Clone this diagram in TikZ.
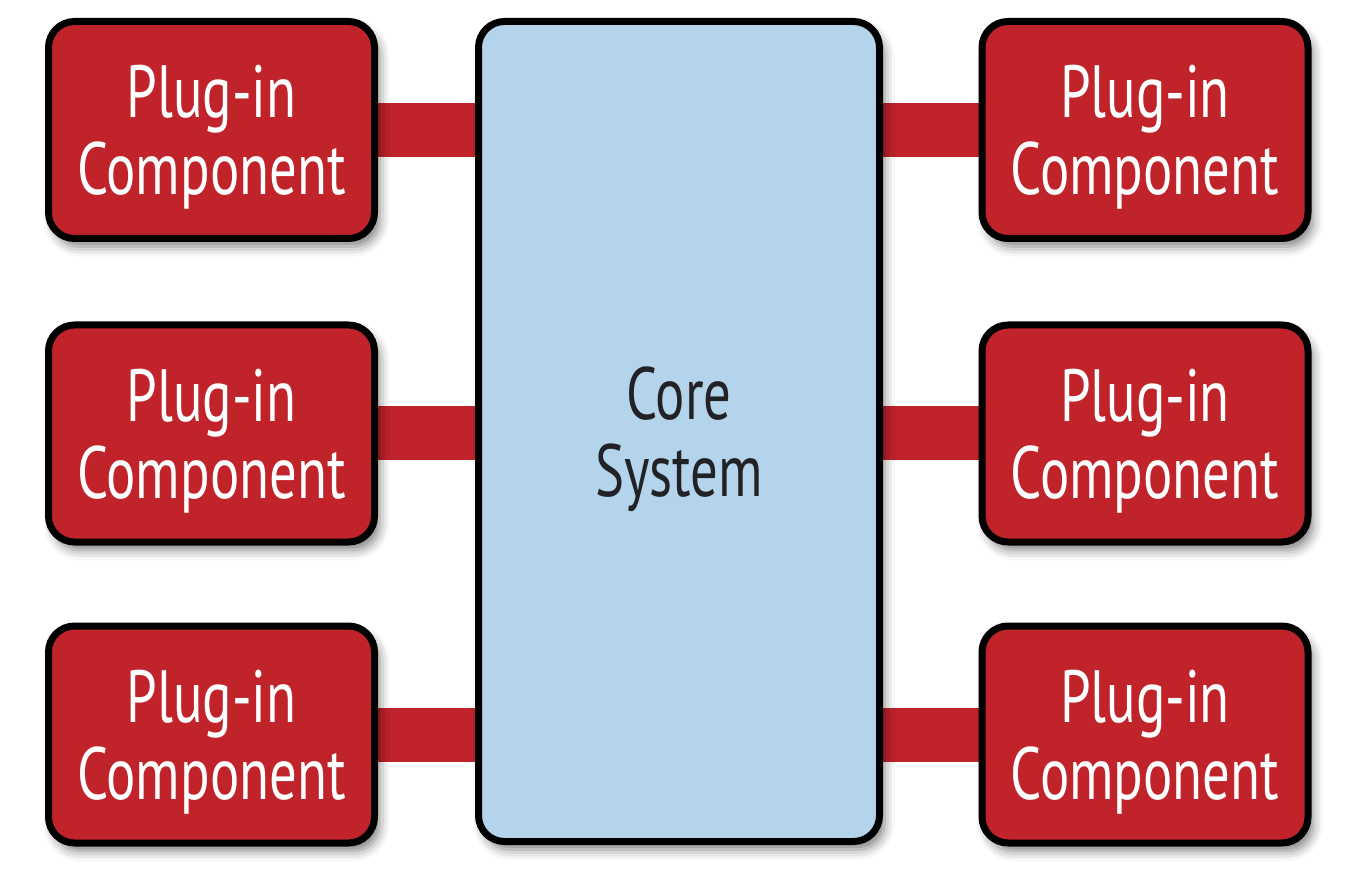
\documentclass[tikz,border=0pt]{standalone}
\usepackage{fontspec}
\setmainfont{PT Sans}[FakeStretch=0.74]
\usetikzlibrary{shadows.blur,backgrounds}
\definecolor{plugred}{RGB}{193,35,43}
\definecolor{coreblue}{RGB}{179,212,234}
\definecolor{coretext}{RGB}{34,34,38}
\tikzset{
  boxshadow/.style={blur shadow={shadow xshift=5pt, shadow yshift=-8pt,
      shadow blur radius=10pt, shadow opacity=50}},
  plugin/.style={draw=black, line width=7pt, fill=plugred, rounded corners=26pt,
      minimum width=326pt, minimum height=217pt, boxshadow, text depth=0pt,
      text=white, align=center, font=\fontsize{74}{77}\selectfont},
  core/.style={draw=black, line width=7pt, fill=coreblue, rounded corners=26pt,
      minimum width=401pt, minimum height=820pt, boxshadow, text depth=0pt,
      text=coretext, align=center, font=\fontsize{74}{77}\selectfont},
  link/.style={draw=plugred, line width=54pt}
}
\begin{document}
\begin{tikzpicture}[x=1pt,y=-1pt]
  \useasboundingbox (0,0) rectangle (1361,882);
  % central core
  \node[core] (core) at (679,431.5) {Core\\System};
  % plug-in components, left column
  \node[plugin] (l1) at (211.5,130)   {Plug-in\\Component};
  \node[plugin] (l2) at (211.5,433.5) {Plug-in\\Component};
  \node[plugin] (l3) at (211.5,734.5) {Plug-in\\Component};
  % plug-in components, right column
  \node[plugin] (r1) at (1145,130)   {Plug-in\\Component};
  \node[plugin] (r2) at (1145,433.5) {Plug-in\\Component};
  \node[plugin] (r3) at (1145,734.5) {Plug-in\\Component};
  % connectors behind the boxes
  \begin{scope}[on background layer]
    \foreach \p in {l1,l2,l3}{
      \draw[link] (\p.center) -- (\p.center -| core.center);
    }
    \foreach \p in {r1,r2,r3}{
      \draw[link] (\p.center) -- (\p.center -| core.center);
    }
  \end{scope}
\end{tikzpicture}
\end{document}
